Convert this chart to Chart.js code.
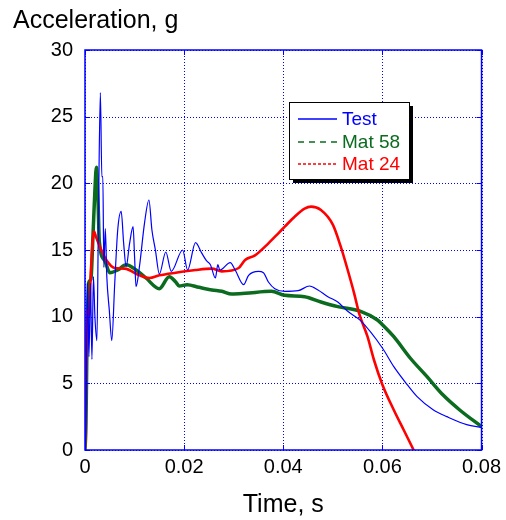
<!DOCTYPE html>
<html>
<head>
<meta charset="utf-8">
<script src="https://cdn.jsdelivr.net/npm/chart.js@4.4.1/dist/chart.umd.min.js"></script>
<style>
  body { margin: 0; background: #fff; }
  #wrap { width: 506px; height: 520px; }
</style>
</head>
<body>
<div id="wrap"><canvas id="myChart" width="506" height="520"></canvas></div>
<script>
// time in s, acceleration in g
const testTime = [0, 0.0002, 0.0005, 0.0008, 0.0011, 0.0014, 0.0017, 0.0020, 0.0024, 0.0027, 0.0031, 0.0034,
  0.0036, 0.0038, 0.0041, 0.0044, 0.0049, 0.0054, 0.0060, 0.0066, 0.0073, 0.0078, 0.0083, 0.0090, 0.0097,
  0.0100, 0.0103, 0.0110, 0.0120, 0.0129, 0.0135, 0.0142, 0.0150, 0.0163, 0.0174, 0.0197, 0.0207, 0.0223,
  0.0235, 0.0245, 0.0253, 0.0263, 0.0268, 0.0272, 0.0293, 0.0303, 0.0320, 0.0330, 0.0350, 0.0360, 0.0370,
  0.0383, 0.0403, 0.0430, 0.0453, 0.0470, 0.0490, 0.0510, 0.0530, 0.0556, 0.0600, 0.0623, 0.0650, 0.0670,
  0.0703, 0.0730, 0.0770, 0.0800];
const testAcc = [0, 2, 12.5, 7, 12.5, 6.8, 13, 10, 8.2, 17, 26.8, 20.5,
  20.5, 13.7, 16.6, 13, 10.5, 8.2, 12.5, 16.5, 17.9, 15.5, 13.75, 15.5, 16.75,
  14.5, 12.25, 13.8, 17, 18.75, 16.5, 15, 13.2, 14.85, 13.4, 15, 13.5, 15.55,
  14.8, 14.2, 13.9, 12.9, 13.9, 13.5, 14.05, 13.5, 12.4, 13.1, 13.4, 13.3, 12.6,
  12.1, 11.9, 11.95, 12.3, 12, 11.5, 11.1, 10.4, 9.7, 7.65, 6.25, 4.9, 4,
  3, 2.5, 1.9, 1.7];

const mat58Time = [0, 0.0002, 0.00035, 0.0007, 0.0012, 0.0016, 0.0020, 0.0023, 0.0026, 0.0029, 0.0040,
  0.0050, 0.0066, 0.0083, 0.0103, 0.0123, 0.0150, 0.0170, 0.0183, 0.0190, 0.0206, 0.0230, 0.0256, 0.0276,
  0.0296, 0.0323, 0.0376, 0.0403, 0.0443, 0.0476, 0.0510, 0.0556, 0.0590, 0.0600, 0.0623, 0.0656, 0.0690,
  0.0723, 0.0756, 0.0800];
const mat58Acc = [0, 2, 6.5, 12.5, 12.8, 16, 19.5, 21.2, 19, 15.6, 14.2,
  13.3, 13.5, 13.9, 13.5, 12.9, 12.1, 13.0, 12.6, 12.3, 12.4, 12.2, 12.0, 11.9,
  11.7, 11.75, 11.9, 11.6, 11.5, 11.1, 10.75, 10.4, 9.75, 9.4, 8.5, 6.9, 5.5,
  4.1, 3, 1.75];

const mat24Time = [0, 0.0002, 0.0004, 0.0008, 0.0012, 0.0018, 0.0022, 0.0030, 0.0043, 0.0060, 0.0080,
  0.0110, 0.0130, 0.0150, 0.0183, 0.0223, 0.0256, 0.0276, 0.0310, 0.0323, 0.0343, 0.0370, 0.0390, 0.0403,
  0.0423, 0.0443, 0.0456, 0.0476, 0.0500, 0.0516, 0.0530, 0.0543, 0.0553, 0.0570, 0.0583, 0.0600, 0.0623,
  0.0643, 0.0663];
const mat24Acc = [0, 5, 10.5, 10, 13.5, 16.4, 16, 15.25, 14.25, 13.65, 13.6,
  13.1, 12.9, 13.1, 13.3, 13.5, 13.6, 13.4, 13.65, 14.25, 14.6, 15.5, 16.25, 16.75,
  17.5, 18.1, 18.25, 18, 16.9, 15.25, 13.5, 11.75, 10.25, 8.5, 6.75, 4.9, 3,
  1.5, 0];

const seriesNames = ['Test', 'Mat 58', 'Mat 24'];
const xTickLabels = ['0', '0.02', '0.04', '0.06', '0.08'];
const yTickLabels = ['0', '5', '10', '15', '20', '25', '30'];

const BLUE = '#0000ff';
const GREEN = '#0b6b1e';
const RED = '#ff0000';
const FONT = '"Liberation Sans", Arial, sans-serif';

function pairs(xs, ys) {
  return xs.map((x, i) => ({ x: x, y: ys[i] }));
}

// dotted grid under the data; frame, inward ticks, y title and boxed legend on top
const decorPlugin = {
  id: 'decor',
  beforeDatasetsDraw(chart) {
    const ctx = chart.ctx;
    const a = chart.chartArea;
    ctx.save();
    ctx.strokeStyle = BLUE;
    ctx.lineWidth = 1;
    ctx.setLineDash([1, 2]);
    chart.scales.x.ticks.forEach((t) => {
      const px = Math.round(chart.scales.x.getPixelForValue(t.value)) + 0.5;
      ctx.beginPath();
      ctx.moveTo(px, a.top); ctx.lineTo(px, a.bottom);
      ctx.stroke();
    });
    chart.scales.y.ticks.forEach((t) => {
      const py = Math.round(chart.scales.y.getPixelForValue(t.value)) + 0.5;
      ctx.beginPath();
      ctx.moveTo(a.left, py); ctx.lineTo(a.right, py);
      ctx.stroke();
    });
    ctx.restore();
  },
  afterDraw(chart) {
    const ctx = chart.ctx;
    const a = chart.chartArea;
    const xs = chart.scales.x;
    const ys = chart.scales.y;
    ctx.save();
    ctx.strokeStyle = BLUE;
    ctx.lineWidth = 1.5;
    ctx.strokeRect(a.left, a.top, a.right - a.left, a.bottom - a.top);
    ctx.lineWidth = 1;
    xs.ticks.forEach((t) => {
      const px = Math.round(xs.getPixelForValue(t.value)) + 0.5;
      ctx.beginPath();
      ctx.moveTo(px, a.bottom); ctx.lineTo(px, a.bottom - 5);
      ctx.moveTo(px, a.top); ctx.lineTo(px, a.top + 5);
      ctx.stroke();
    });
    ys.ticks.forEach((t) => {
      const py = Math.round(ys.getPixelForValue(t.value)) + 0.5;
      ctx.beginPath();
      ctx.moveTo(a.left, py); ctx.lineTo(a.left + 5, py);
      ctx.moveTo(a.right, py); ctx.lineTo(a.right - 5, py);
      ctx.stroke();
    });

    ctx.fillStyle = '#000';
    ctx.font = '25px ' + FONT;
    ctx.textAlign = 'left';
    ctx.textBaseline = 'alphabetic';
    ctx.fillText('Acceleration, g', 13, 28);

    // legend box with shadow
    const bx = 289, by = 102, bw = 120, bh = 77;
    ctx.fillStyle = '#000';
    ctx.fillRect(bx + 4, by + 4, bw, bh);
    ctx.fillStyle = '#fff';
    ctx.fillRect(bx, by, bw, bh);
    ctx.strokeStyle = '#000';
    ctx.lineWidth = 1;
    ctx.strokeRect(bx + 0.5, by + 0.5, bw, bh);

    const colors = [BLUE, GREEN, RED];
    const dashes = [[], [6, 5], [3, 2]];
    const rowsY = [119, 142, 164];
    ctx.font = '19px ' + FONT;
    ctx.textBaseline = 'middle';
    seriesNames.forEach((name, i) => {
      ctx.strokeStyle = colors[i];
      ctx.lineWidth = 1.5;
      ctx.setLineDash(dashes[i]);
      ctx.beginPath();
      ctx.moveTo(298, rowsY[i]);
      ctx.lineTo(337, rowsY[i]);
      ctx.stroke();
      ctx.setLineDash([]);
      ctx.fillStyle = colors[i];
      ctx.fillText(name, 342, rowsY[i] + 1);
    });
    ctx.restore();
  }
};

const ctx = document.getElementById('myChart').getContext('2d');
const myChart = new Chart(ctx, {
  type: 'line',
  data: {
    datasets: [
      { label: seriesNames[0], data: pairs(testTime, testAcc), borderColor: BLUE, borderWidth: 1.2, order: 0 },
      { label: seriesNames[1], data: pairs(mat58Time, mat58Acc), borderColor: GREEN, borderWidth: 3.5, order: 2 },
      { label: seriesNames[2], data: pairs(mat24Time, mat24Acc), borderColor: RED, borderWidth: 2.6, order: 1 },
    ],
  },
  options: {
    responsive: false,
    animation: false,
    events: [],
    elements: {
      point: { radius: 0 },
      line: { cubicInterpolationMode: 'monotone', borderJoinStyle: 'round', borderCapStyle: 'round' },
    },
    layout: { padding: { top: 50, right: 21, left: 0, bottom: 0 } },
    plugins: { legend: { display: false }, tooltip: { enabled: false } },
    scales: {
      x: {
        type: 'linear',
        min: 0,
        max: 0.08,
        afterFit: (scale) => { scale.height = 70; },
        grid: { display: false, drawTicks: false },
        border: { display: false },
        ticks: {
          stepSize: 0.02,
          padding: 5,
          color: '#000',
          font: { family: FONT, size: 20 },
          maxRotation: 0,
          callback: (value, index) => xTickLabels[index],
        },
        title: {
          display: true,
          text: 'Time, s',
          color: '#000',
          font: { family: FONT, size: 25 },
          padding: 0,
        },
      },
      y: {
        min: 0,
        max: 30,
        afterFit: (scale) => { scale.width = 85; },
        grid: { display: false, drawTicks: false },
        border: { display: false },
        ticks: {
          stepSize: 5,
          padding: 12,
          color: '#000',
          font: { family: FONT, size: 20 },
          callback: (value, index) => yTickLabels[index],
        },
      },
    },
  },
  plugins: [decorPlugin],
});
</script>
</body>
</html>
